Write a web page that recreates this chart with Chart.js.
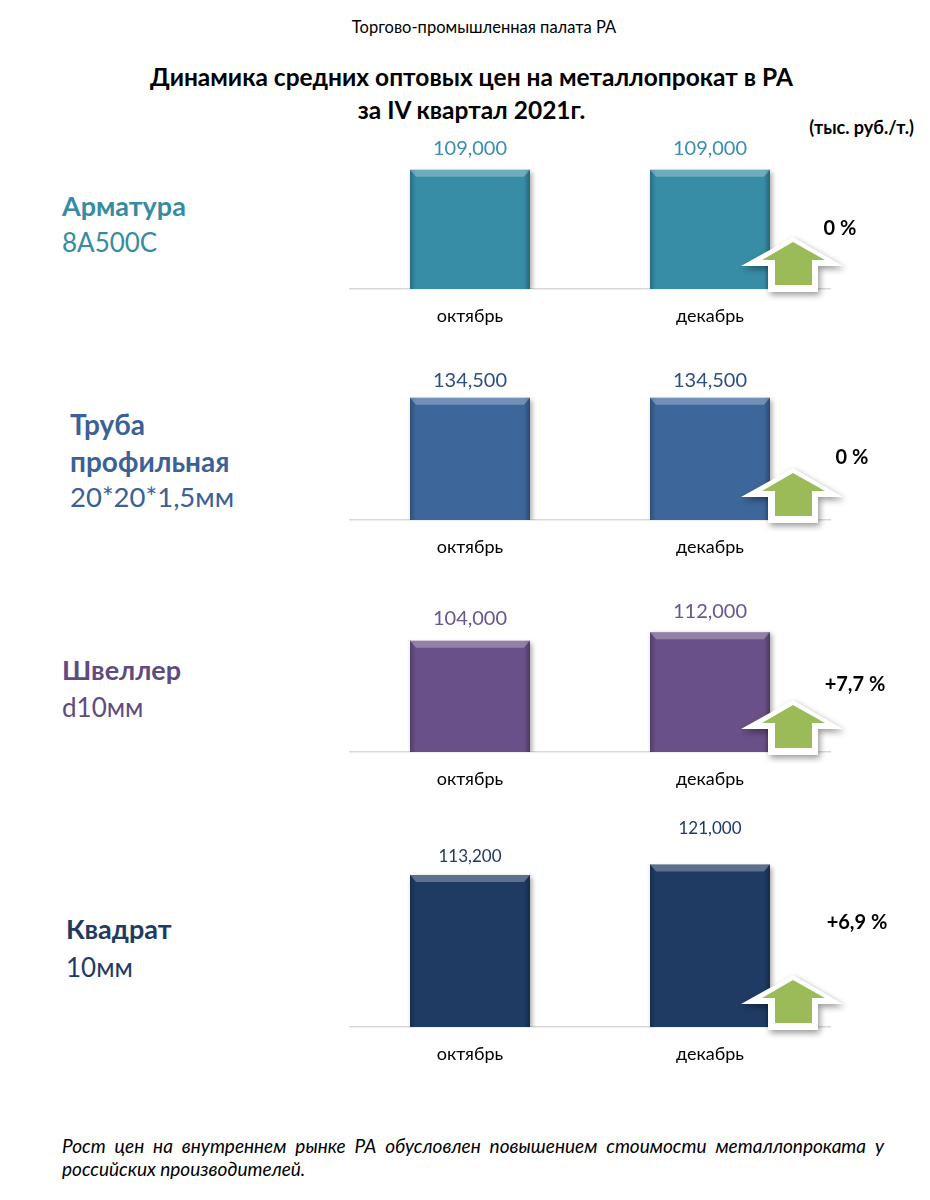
<!DOCTYPE html>
<html><head><meta charset="utf-8">
<script src="https://cdn.jsdelivr.net/npm/chart.js@4.4.1/dist/chart.umd.min.js"></script>
<style>
body{margin:0;background:#fff;width:930px;height:1200px;position:relative;overflow:hidden;font-family:Lato,sans-serif}
.t{position:absolute;white-space:nowrap;line-height:1.2}
canvas{position:absolute}
</style></head><body>
<div class="t" style="left:0;width:968px;text-align:center;top:18px;font-size:16.5px;color:#000">Торгово-промышленная палата РА</div>
<div class="t" style="left:0;width:943px;text-align:center;top:62px;font-size:24.5px;font-weight:bold;color:#000">Динамика средних оптовых цен на металлопрокат в РА</div>
<div class="t" style="left:0;width:943px;text-align:center;top:95px;font-size:24.5px;font-weight:bold;color:#000">за IV квартал 2021г.</div>
<div class="t" style="right:16px;top:117px;font-size:18px;font-weight:bold;color:#000">(тыс. руб./т.)</div>

<div class="t" style="left:62px;top:190px;font-size:27px;font-weight:bold;color:#368CA0">Арматура</div>
<div class="t" style="left:62px;top:227px;font-size:26px;color:#368CA0">8А500С</div>

<div class="t" style="left:70px;top:408px;font-size:28px;font-weight:bold;color:#3B6196">Труба</div>
<div class="t" style="left:70px;top:445px;font-size:28px;font-weight:bold;color:#3B6196">профильная</div>
<div class="t" style="left:70px;top:480px;font-size:27.5px;color:#3B6196">20*20*1,5мм</div>

<div class="t" style="left:62px;top:654px;font-size:27px;font-weight:bold;color:#5F4B82">Швеллер</div>
<div class="t" style="left:62px;top:692px;font-size:26px;color:#5F4B82">d10мм</div>

<div class="t" style="left:66px;top:913px;font-size:27px;font-weight:bold;color:#1F3B62">Квадрат</div>
<div class="t" style="left:66px;top:952px;font-size:26px;color:#1F3B62">10мм</div>

<div style="position:absolute;left:62px;top:1134px;width:822px;font-size:19px;font-style:italic;line-height:23px;text-align:justify;text-align-last:justify;color:#000;white-space:nowrap">Рост цен на внутреннем рынке РА обусловлен повышением стоимости металлопроката у</div>
<div style="position:absolute;left:62px;top:1157px;font-size:19px;font-style:italic;line-height:23px;color:#000;white-space:nowrap">российских производителей.</div>

<canvas id="c0"></canvas>
<canvas id="c1"></canvas>
<canvas id="c2"></canvas>
<canvas id="c3"></canvas>

<script>
const categories = ['октябрь', 'декабрь'];
const armaturaValues = [109000, 109000];
const trubaValues = [134500, 134500];
const shvellerValues = [104000, 112000];
const kvadratValues = [113200, 121000];

const panels = [
  {values: armaturaValues, base: 289, max: 183000, color: '#378CA6', text: '#3B8FA8', labelSize: 20, gaps: [21, 21], pctDx: 130, pctDy: 60},
  {values: trubaValues,    base: 520, max: 220000, color: '#3D669A', text: '#2F4F80', labelSize: 20, gaps: [17, 17], pctDx: 142, pctDy: 62},
  {values: shvellerValues, base: 752, max: 187000, color: '#6A5088', text: '#6A5590', labelSize: 20, gaps: [22, 21], pctDx: 145, pctDy: 67},
  {values: kvadratValues,  base: 1027, max: 149000, color: '#1F3B64', text: '#1F3A66', labelSize: 17, gaps: [19, 36], pctDx: 147, pctDy: 104}
];

function pctText(v) {
  const p = (v[1] - v[0]) / v[0] * 100;
  if (Math.abs(p) < 0.05) return '0 %';
  return (p > 0 ? '+' : '') + p.toFixed(1).replace('.', ',') + ' %';
}

const PLOT_H = 200, PAD_TOP = 30, AXIS_H = 45;

panels.forEach((p, idx) => {
  const cv = document.getElementById('c' + idx);
  const H = PAD_TOP + PLOT_H + AXIS_H;
  cv.width = 590; cv.height = H;
  cv.style.left = '340px';
  cv.style.top = (p.base - PAD_TOP - PLOT_H) + 'px';
  cv.style.width = '590px'; cv.style.height = H + 'px';

  const deco = {
    id: 'deco' + idx,
    beforeDatasetsDraw(chart) {
      const ctx = chart.ctx;
      ctx.save();
      ctx.shadowColor = 'rgba(0,0,0,0.35)';
      ctx.shadowBlur = 5;
      ctx.shadowOffsetX = 2;
      ctx.shadowOffsetY = 2;
    },
    afterDatasetsDraw(chart) {
      const ctx = chart.ctx;
      ctx.restore();
      const meta = chart.getDatasetMeta(0);
      meta.data.forEach((bar, i) => {
        const x0 = bar.x - bar.width / 2, x1 = bar.x + bar.width / 2;
        const top = bar.y, bot = bar.base;
        ctx.save();
        const g = ctx.createLinearGradient(x0, 0, x1, 0);
        g.addColorStop(0, 'rgba(0,0,0,0.22)');
        g.addColorStop(0.05, 'rgba(0,0,0,0)');
        g.addColorStop(0.95, 'rgba(0,0,0,0)');
        g.addColorStop(1, 'rgba(0,0,0,0.28)');
        ctx.fillStyle = g;
        ctx.fillRect(x0, top, x1 - x0, bot - top);
        ctx.beginPath();
        ctx.moveTo(x0, top); ctx.lineTo(x1, top);
        ctx.lineTo(x1 - 6, top + 7); ctx.lineTo(x0 + 6, top + 7);
        ctx.closePath();
        ctx.fillStyle = 'rgba(255,255,255,0.28)';
        ctx.fill();
        ctx.restore();
        ctx.save();
        ctx.fillStyle = p.text;
        ctx.font = p.labelSize + 'px Lato, sans-serif';
        ctx.textAlign = 'center';
        ctx.textBaseline = 'middle';
        ctx.fillText(p.values[i].toLocaleString('en-US'), bar.x, top - p.gaps[i]);
        ctx.restore();
      });
    },
    afterDraw(chart) {
      const ctx = chart.ctx;
      const xs = chart.scales.x, ys = chart.scales.y;
      const B = ys.getPixelForValue(0);
      const cx = xs.getPixelForValue(1) + 83;
      ctx.save();
      ctx.shadowColor = 'rgba(0,0,0,0.4)';
      ctx.shadowBlur = 6;
      ctx.shadowOffsetX = 2;
      ctx.shadowOffsetY = 3;
      ctx.beginPath();
      ctx.moveTo(cx, B - 52);
      ctx.lineTo(cx + 50, B - 23);
      ctx.lineTo(cx + 25, B - 23);
      ctx.lineTo(cx + 25, B + 3);
      ctx.lineTo(cx - 25, B + 3);
      ctx.lineTo(cx - 25, B - 23);
      ctx.lineTo(cx - 52, B - 23);
      ctx.closePath();
      ctx.fillStyle = '#FFFFFF';
      ctx.fill();
      ctx.restore();
      ctx.save();
      ctx.beginPath();
      ctx.moveTo(cx, B - 47);
      ctx.lineTo(cx + 32, B - 29);
      ctx.lineTo(cx + 19, B - 29);
      ctx.lineTo(cx + 19, B - 4);
      ctx.lineTo(cx - 18, B - 4);
      ctx.lineTo(cx - 18, B - 29);
      ctx.lineTo(cx - 31, B - 29);
      ctx.closePath();
      ctx.fillStyle = '#9BBB59';
      ctx.fill();
      ctx.restore();
      ctx.save();
      ctx.fillStyle = '#000';
      ctx.font = 'bold 20px Lato, sans-serif';
      ctx.textAlign = 'center';
      ctx.textBaseline = 'middle';
      ctx.fillText(pctText(p.values), xs.getPixelForValue(1) + p.pctDx, B - p.pctDy);
      ctx.restore();
    }
  };

  new Chart(cv, {
    type: 'bar',
    data: {
      labels: categories,
      datasets: [{
        data: p.values,
        backgroundColor: p.color,
        borderColor: p.color,
        borderWidth: 0,
        barPercentage: 1,
        categoryPercentage: 0.5
      }]
    },
    options: {
      responsive: false,
      animation: false,
      layout: {padding: {left: 10, right: 100, top: PAD_TOP, bottom: 0}},
      plugins: {legend: {display: false}, tooltip: {enabled: false}},
      scales: {
        x: {
          grid: {display: false, drawTicks: false},
          border: {display: true, color: '#D9D9D9', width: 1.5},
          ticks: {color: '#000', font: {family: 'Lato', size: 18}, padding: 16},
          afterFit(s) { s.height = AXIS_H; }
        },
        y: {display: false, min: 0, max: p.max}
      }
    },
    plugins: [deco]
  });
});
</script>
</body></html>
